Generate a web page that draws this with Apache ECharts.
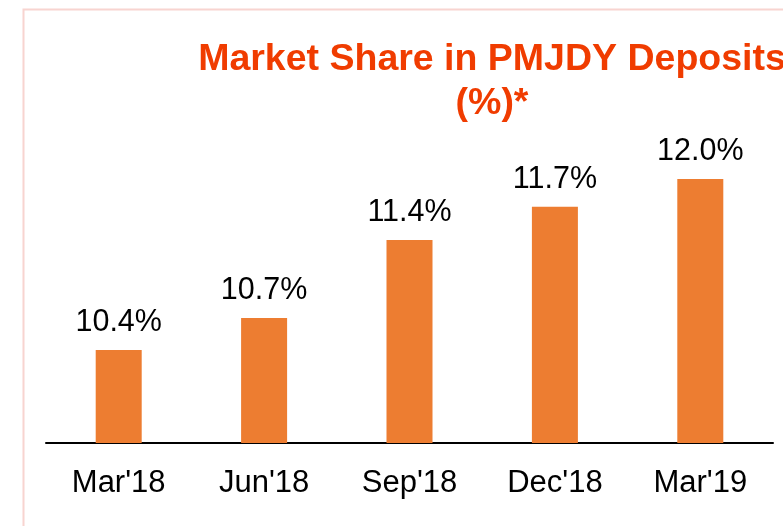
<!DOCTYPE html>
<html>
<head>
<meta charset="utf-8">
<script src="https://cdn.jsdelivr.net/npm/echarts@6/dist/echarts.min.js"></script>
<style>
    html, body {margin: 0; padding: 0; background: #fff;}
    #main {width: 783px; height: 526px;}
</style>
</head>
<body>
<div id="main"></div>
<script>
// 数据
var quarters = ["Mar'18", "Jun'18", "Sep'18", "Dec'18", "Mar'19"];
var shares = [10.4, 10.7, 11.43, 11.74, 12.0];
var titleLines = ["Market Share in PMJDY Deposits", "(%)*"];

var chart = echarts.init(document.getElementById('main'));
chart.setOption({
    backgroundColor: '#fff',
    animation: false,
    graphic: [{
        type: 'rect',
        shape: {x: 23.5, y: 9.5, width: 800, height: 560},
        style: {fill: 'none', stroke: '#f8d4d0', lineWidth: 2},
        silent: true
    }, {
        type: 'text',
        x: 492,
        y: 38,
        style: {
            text: titleLines.join('\n'),
            fill: '#f03c00',
            font: 'bold 37.5px "Liberation Sans", Arial, sans-serif',
            lineHeight: 44,
            align: 'center',
            verticalAlign: 'top'
        }
    }],
    grid: {left: 46, right: 10, top: 100, bottom: 83},
    xAxis: {
        type: 'category',
        data: quarters,
        axisLine: {lineStyle: {color: '#000', width: 2}},
        axisTick: {show: false},
        axisLabel: {
            color: '#000',
            fontSize: 31,
            lineHeight: 31,
            margin: 25,
            fontFamily: '"Liberation Sans", Arial, sans-serif'
        }
    },
    yAxis: {
        type: 'value',
        min: 9.53,
        max: 12.74,
        show: false,
        splitLine: {show: false}
    },
    series: [{
        type: 'bar',
        data: shares,
        barWidth: 46,
        itemStyle: {color: '#ed7d31'},
        label: {
            show: true,
            position: 'top',
            distance: 12,
            color: '#000',
            fontSize: 30.5,
            lineHeight: 30,
            fontFamily: '"Liberation Sans", Arial, sans-serif',
            formatter: function (p) {
                return p.value.toFixed(1) + '%';
            }
        }
    }]
});
</script>
</body>
</html>
